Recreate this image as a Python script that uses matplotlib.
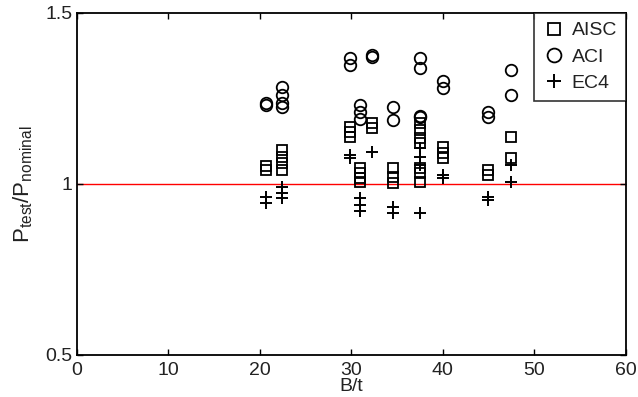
import matplotlib
matplotlib.use("Agg")
import matplotlib.pyplot as plt

plt.rcParams['font.family'] = ['Liberation Sans', 'DejaVu Sans']
plt.rcParams['mathtext.fontset'] = 'custom'
plt.rcParams['mathtext.rm'] = 'Liberation Sans'
plt.rcParams['mathtext.it'] = 'Liberation Sans:italic'

# AISC (squares)
aisc_x = [20.7, 20.7, 22.4, 22.4, 22.4, 22.4, 29.8, 29.8, 29.8, 30.9, 30.9, 30.9, 30.9,
          32.3, 32.3, 34.5, 34.5, 34.5, 37.5, 37.5, 37.5, 37.5, 37.5, 37.5, 37.5,
          40.0, 40.0, 40.0, 44.9, 44.9, 47.4, 47.4]
aisc_y = [1.052, 1.042, 1.10, 1.08, 1.06, 1.04, 1.167, 1.152, 1.137, 1.047, 1.032, 1.018, 1.006,
          1.178, 1.164, 1.047, 1.02, 1.003, 1.178, 1.158, 1.135, 1.12, 1.047, 1.032, 1.006,
          1.108, 1.09, 1.076, 1.04, 1.026, 1.137, 1.076]

# ACI (circles)
aci_x = [20.7, 20.7, 22.4, 22.4, 22.4, 22.4, 29.8, 29.8, 30.9, 30.9, 30.9, 32.3, 32.3,
         34.5, 34.5, 37.5, 37.5, 37.5, 37.5, 40.0, 40.0, 44.9, 44.9, 47.4, 47.4]
aci_y = [1.237, 1.232, 1.284, 1.26, 1.237, 1.225, 1.368, 1.348, 1.23, 1.21, 1.19, 1.377, 1.37,
         1.225, 1.187, 1.368, 1.34, 1.20, 1.195, 1.30, 1.28, 1.21, 1.196, 1.333, 1.26]

# EC4 (plus)
ec4_x = [20.7, 20.7, 22.4, 22.4, 22.4, 29.8, 29.8, 30.9, 30.9, 30.9, 32.3, 34.5, 34.5,
         37.5, 37.5, 37.5, 37.5, 40.0, 40.0, 44.9, 44.9, 47.4, 47.4]
ec4_y = [0.962, 0.944, 0.99, 0.975, 0.96, 1.085, 1.076, 0.96, 0.94, 0.92, 1.094, 0.933, 0.915,
         1.105, 1.08, 1.055, 0.915, 1.026, 1.018, 0.962, 0.953, 1.055, 1.006]

x_ticks = [0, 10, 20, 30, 40, 50, 60]
y_ticks = [0.5, 1, 1.5]

fig = plt.figure(figsize=(6.38, 3.97), dpi=100)
ax = fig.add_axes([0.1207, 0.1058, 0.8603, 0.8615])

ax.axhline(1.0, color='red', lw=1.0, zorder=1)
ax.plot(aisc_x, aisc_y, 's', mfc='none', mec='black', ms=7.5, mew=1.3, label='AISC', zorder=3)
ax.plot(aci_x, aci_y, 'o', mfc='none', mec='black', ms=8.3, mew=1.3, label='ACI', zorder=3)
ax.plot(ec4_x, ec4_y, '+', color='black', ms=8.5, mew=1.4, label='EC4', zorder=3)

ax.set_xlim(0, 60)
ax.set_ylim(0.5, 1.5)
ax.set_xticks(x_ticks)
ax.set_xticklabels([str(t) for t in x_ticks])
ax.set_yticks(y_ticks)
ax.set_yticklabels(['0.5', '1', '1.5'])

ax.tick_params(direction='in', top=True, right=True, length=4, width=1,
               labelsize=14, labelcolor='#222222')
ax.tick_params(axis='x', pad=5)
ax.tick_params(axis='y', pad=3)
for s in ax.spines.values():
    s.set_linewidth(1.3)

ax.set_xlabel('B/t', fontsize=14, color='#222222', labelpad=-1)
ax.set_ylabel(r'P$_{\mathrm{test}}$/P$_{\mathrm{nominal}}$', fontsize=16, color='#222222', labelpad=8)

leg = ax.legend(loc='upper right', fontsize=14, frameon=True, fancybox=False,
                borderaxespad=0, handlelength=1.2, handletextpad=0.3,
                labelspacing=0.45, borderpad=0.45, markerscale=1.2)
leg.get_frame().set_edgecolor('black')
leg.get_frame().set_linewidth(1.2)
for t in leg.get_texts():
    t.set_color('#222222')

fig.savefig('out.png', dpi=100)
